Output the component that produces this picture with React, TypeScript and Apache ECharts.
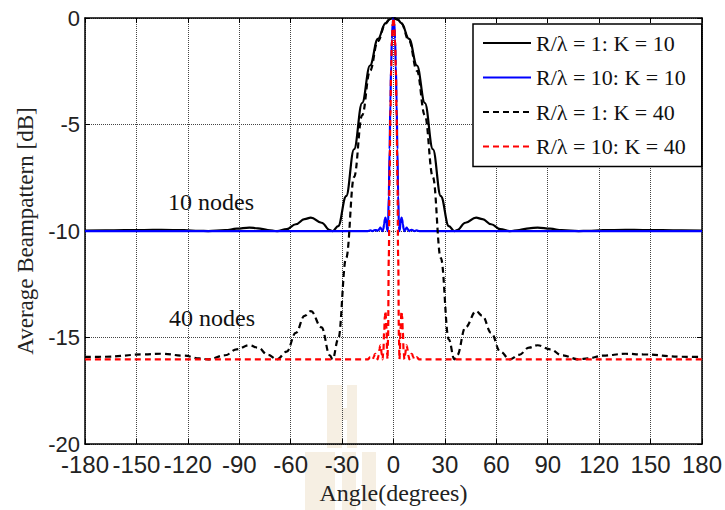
import React, { useEffect, useRef } from "react";
import * as echarts from "echarts";

// Angles (degrees) and average beampattern values (dB)
const anglesR1 = [
  -180, -168.2, -145.5, -135.3, -122.2, -113.4, -108.1, -98.2, -91.5, -84.1, -79.1, -73.3, -67.9, -62.3, -57.0,
  -51.9, -48.2, -42.0, -37.1, -35.5, -32.3, -27.6, -23.0, -18.3, -13.7, -9.1, -4.6, -2.3, 0, 2.3, 4.6, 9.1, 13.7,
  18.3, 23.0, 27.6, 32.3, 35.5, 37.1, 42.0, 48.2, 51.9, 57.0, 62.3, 67.9, 73.3, 79.1, 84.1, 91.5, 98.2, 108.1,
  113.4, 122.2, 135.3, 145.5, 168.2, 180,
];
const r1k10 = [
  -9.98, -9.97, -9.95, -9.94, -9.96, -9.99, -10.0, -9.96, -9.89, -9.84, -9.87, -9.95, -10.0, -9.91, -9.68, -9.44,
  -9.37, -9.61, -9.96, -10.0, -9.77, -8.36, -6.16, -3.99, -2.23, -0.98, -0.24, -0.06, 0, -0.06, -0.24, -0.98,
  -2.23, -3.99, -6.16, -8.36, -9.77, -10.0, -9.96, -9.61, -9.37, -9.44, -9.68, -9.91, -10.0, -9.95, -9.87, -9.84,
  -9.89, -9.96, -10.0, -9.99, -9.96, -9.94, -9.95, -9.97, -9.98,
];
const r1k40 = [
  -15.91, -15.9, -15.79, -15.76, -15.85, -15.98, -16.02, -15.83, -15.55, -15.36, -15.47, -15.81, -16.02, -15.66,
  -14.78, -13.98, -13.76, -14.52, -15.84, -16.02, -15.09, -11.26, -7.47, -4.57, -2.48, -1.08, -0.26, -0.07, 0,
  -0.07, -0.26, -1.08, -2.48, -4.57, -7.47, -11.26, -15.09, -16.02, -15.84, -14.52, -13.76, -13.98, -14.78, -15.66,
  -16.02, -15.81, -15.47, -15.36, -15.55, -15.83, -16.02, -15.98, -15.85, -15.76, -15.79, -15.9, -15.91,
];
const anglesR10 = [
  -180, -15, -13.5, -12.15, -11.4, -10.94, -10.6, -10.03, -9.58, -9.28, -8.66, -8.21, -7.68, -7.3, -6.84, -6.38,
  -5.93, -5.47, -5.02, -4.68, -4.1, -3.65, -3.49, -3.19, -2.74, -2.28, -1.82, -1.37, -0.91, -0.46, 0, 0.46, 0.91,
  1.37, 1.82, 2.28, 2.74, 3.19, 3.49, 3.65, 4.1, 4.68, 5.02, 5.47, 5.93, 6.38, 6.84, 7.3, 7.68, 8.21, 8.66, 9.28,
  9.58, 10.03, 10.6, 10.94, 11.4, 12.15, 13.5, 15, 180,
];
const r10k10 = [
  -10.0, -10.0, -9.97, -10.0, -9.97, -9.95, -9.94, -9.96, -9.99, -10.0, -9.96, -9.89, -9.84, -9.87, -9.95, -10.0,
  -9.91, -9.68, -9.44, -9.37, -9.61, -9.96, -10.0, -9.77, -8.36, -6.16, -3.99, -2.23, -0.98, -0.24, 0, -0.24,
  -0.98, -2.23, -3.99, -6.16, -8.36, -9.77, -10.0, -9.96, -9.61, -9.37, -9.44, -9.68, -9.91, -10.0, -9.95, -9.87,
  -9.84, -9.89, -9.96, -10.0, -9.99, -9.96, -9.94, -9.95, -9.97, -10.0, -9.97, -10.0, -10.0,
];
const r10k40 = [
  -16.02, -16.02, -15.92, -16.02, -15.9, -15.79, -15.76, -15.85, -15.98, -16.02, -15.83, -15.55, -15.36, -15.47,
  -15.81, -16.02, -15.66, -14.78, -13.98, -13.76, -14.52, -15.84, -16.02, -15.09, -11.26, -7.47, -4.57, -2.48,
  -1.08, -0.26, 0, -0.26, -1.08, -2.48, -4.57, -7.47, -11.26, -15.09, -16.02, -15.84, -14.52, -13.76, -13.98,
  -14.78, -15.66, -16.02, -15.81, -15.47, -15.36, -15.55, -15.83, -16.02, -15.98, -15.85, -15.76, -15.79, -15.9,
  -16.02, -15.92, -16.02, -16.02,
];
const seriesNames = ["R/λ = 1: K = 10", "R/λ = 10: K = 10", "R/λ = 1: K = 40", "R/λ = 10: K = 40"];
const annotations = ["10 nodes", "40 nodes"];

const SANS = "'Liberation Sans', Arial, sans-serif";
const SERIF = "'Liberation Serif', 'Times New Roman', serif";
const WATERMARK = "#f6efe3";

const pairs = (xs: number[], ys: number[]) => xs.map((x, i) => [x, ys[i]]);

export default function App() {
  const ref = useRef<HTMLDivElement>(null);
  useEffect(() => {
    if (!ref.current) return;
    const chart = echarts.init(ref.current, undefined, { renderer: "svg" });
    const boxAxis = {
      type: "value" as const,
      axisLine: { show: true, onZero: false, lineStyle: { color: "#000", width: 1.5 } },
      axisTick: { show: true, inside: true, length: 5, lineStyle: { color: "#000", width: 1 } },
      axisLabel: { show: false },
      splitLine: { show: false },
    };
    const mkSeries = (name: string, xs: number[], ys: number[], color: string, dashed: boolean, z: number) => ({
      name,
      type: "line",
      data: pairs(xs, ys),
      symbol: "none",
      smooth: 0.4,
      smoothMonotone: "x",
      z,
      lineStyle: { color, width: 2.2, type: dashed ? [6, 4] : "solid" },
      itemStyle: { color },
    });
    const wm = (x: number, y: number, width: number, height: number) => ({
      type: "rect",
      z: -10,
      silent: true,
      shape: { x, y, width, height },
      style: { fill: WATERMARK },
    });
    chart.setOption({
      animation: false,
      backgroundColor: "#fff",
      grid: { left: 85, right: 19, top: 18, bottom: 62 },
      xAxis: [
        {
          type: "value",
          min: -180,
          max: 180,
          interval: 30,
          position: "bottom",
          axisLine: { show: true, onZero: false, lineStyle: { color: "#000", width: 1.5 } },
          axisTick: { show: true, inside: true, length: 5, lineStyle: { color: "#000", width: 1 } },
          axisLabel: { color: "#222", fontFamily: SANS, fontSize: 24, margin: 8 },
          splitLine: { show: true, lineStyle: { type: "dotted", color: "#444", width: 1 } },
          name: "Angle(degrees)",
          nameLocation: "middle",
          nameGap: 33,
          nameTextStyle: { fontFamily: SERIF, fontSize: 24, color: "#222" },
        },
        { ...boxAxis, min: -180, max: 180, interval: 30, position: "top" },
      ],
      yAxis: [
        {
          type: "value",
          min: -20,
          max: 0,
          interval: 5,
          position: "left",
          axisLine: { show: true, onZero: false, lineStyle: { color: "#000", width: 1.5 } },
          axisTick: { show: true, inside: true, length: 5, lineStyle: { color: "#000", width: 1 } },
          axisLabel: { color: "#222", fontFamily: SANS, fontSize: 22, margin: 5 },
          splitLine: { show: true, lineStyle: { type: "dotted", color: "#444", width: 1 } },
          name: "Average Beampattern [dB]",
          nameLocation: "middle",
          nameGap: 46,
          nameTextStyle: { fontFamily: SERIF, fontSize: 23, color: "#222" },
        },
        { ...boxAxis, min: -20, max: 0, interval: 5, position: "right" },
      ],
      legend: {
        orient: "vertical",
        left: 473,
        top: 24,
        data: seriesNames,
        backgroundColor: "#fff",
        borderColor: "#000",
        borderWidth: 1.5,
        borderRadius: 0,
        padding: [8, 16, 9, 9],
        itemWidth: 48,
        itemHeight: 14,
        itemGap: 12.5,
        itemStyle: { opacity: 0, color: "transparent", borderWidth: 0 },
        textStyle: { fontFamily: SERIF, fontSize: 22, color: "#111", lineHeight: 22 },
        selectedMode: false,
      },
      graphic: [
        wm(327, 385, 15, 63),
        wm(347, 385, 10, 63),
        wm(341, 408, 7, 12),
        wm(305, 452, 30, 58),
        wm(342, 452, 14, 58),
        wm(362, 452, 14, 58),
        {
          type: "text",
          x: 211,
          y: 202,
          style: { text: annotations[0], font: `24px ${SERIF}`, fill: "#111", align: "center", verticalAlign: "middle" },
        },
        {
          type: "text",
          x: 212,
          y: 318,
          style: { text: annotations[1], font: `24px ${SERIF}`, fill: "#111", align: "center", verticalAlign: "middle" },
        },
      ],
      series: [
        mkSeries(seriesNames[0], anglesR1, r1k10, "#000000", false, 2),
        mkSeries(seriesNames[1], anglesR10, r10k10, "#0000ff", false, 3),
        mkSeries(seriesNames[2], anglesR1, r1k40, "#000000", true, 4),
        mkSeries(seriesNames[3], anglesR10, r10k40, "#ff0000", true, 5),
      ],
    });
    return () => chart.dispose();
  }, []);
  return <div ref={ref} style={{ width: 725, height: 510, position: "absolute", left: 0, top: 0 }} />;
}
